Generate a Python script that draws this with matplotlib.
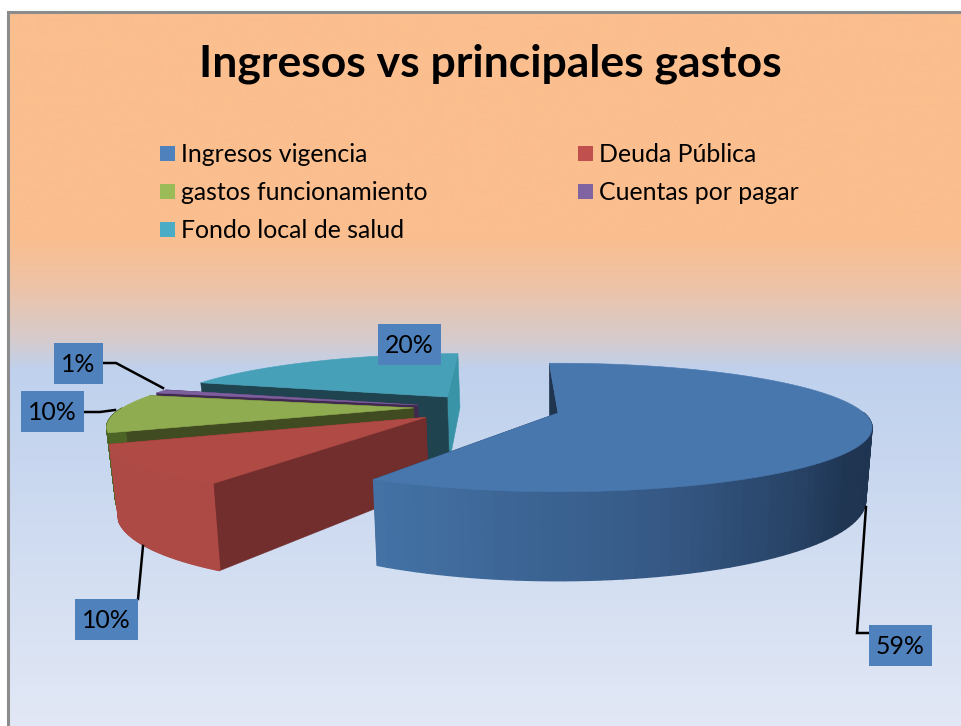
import matplotlib
matplotlib.use("Agg")
import matplotlib.pyplot as plt
from matplotlib.colors import to_rgb
import numpy as np

plt.rcParams['font.family'] = ['Lato', 'DejaVu Sans']

# datos
titulo = "Ingresos vs principales gastos"
categorias = ["Ingresos vigencia", "Deuda Pública", "gastos funcionamiento",
              "Cuentas por pagar", "Fondo local de salud"]
valores = [58.6, 10.4, 10.2, 1.0, 19.8]

colores_leyenda = ["#4F81BD", "#C0504D", "#9BBB59", "#8064A2", "#4BACC6"]
colores_tapa = ["#4877AE", "#AF4A45", "#90AC50", "#7D5F9E", "#46A0B8"]
# cara del primer corte (t0) y del segundo (t1)
colores_corte0 = ["#1F3550", "#722E2D", "#414B22", "#40294F", "#1F4450"]
colores_corte1 = ["#1F3550", "#722E2D", "#414B22", "#40294F", "#3A94A8"]
# borde exterior, de t0 a t1
colores_borde = [["#1E3350", "#1E3350", "#1E3350", "#1F3552", "#365A87", "#4472A6"],
                 ["#AE4A45", "#AE4A45"],
                 ["#4C6426", "#4C6426"],
                 ["#40294F", "#40294F"],
                 ["#3A94A8", "#3A94A8"]]

# desplazamiento de cada porcion en el plano del pastel
sep_x = [0.0, -0.425, -0.481, -0.472, -0.385]
sep_y = [0.0, -0.07, 0.085, 0.135, 0.279]
radio = [1.0, 0.97, 0.97, 0.97, 0.97]

# camara
CX, CY = 558.0, 413.0
RX, RY = 306.0, 61.0
P = 0.225
ALTO = 69.0
ANGULO0 = 92.0

fig = plt.figure(figsize=(9.61, 7.26), dpi=100, facecolor="white")
ax = fig.add_axes([0, 0, 1, 1])
ax.set_xlim(0, 961)
ax.set_ylim(726, 0)
ax.axis("off")

# fondo degradado
ys = [12, 235, 285, 340, 370, 726]
cs = ["#FBBE8E", "#FBBE8E", "#EEC3A6", "#D5CBCD", "#BFD1ED", "#E2E8F5"]
yy = np.arange(12, 727)
rgb = np.array([to_rgb(c) for c in cs])
grad = np.stack([np.interp(yy, ys, rgb[:, i]) for i in range(3)], axis=1)[:, None, :]
ax.imshow(grad, extent=(8, 961, 726, 12), aspect="auto", zorder=0)
ax.plot([8, 8, 961], [726, 12, 12], color="#8C8C8C", lw=2.2, zorder=1, solid_joinstyle="miter")
ax.set_xlim(0, 961)
ax.set_ylim(726, 0)


def proyecta(X, Y, abajo=False):
    X = np.asarray(X, dtype=float)
    Y = np.asarray(Y, dtype=float)
    s = 1 / (1 + P * Y)
    x = CX + RX * X * s
    y = CY - RY * Y * s
    if abajo:
        x = CX + (x - CX) * 0.98
        y = y + ALTO * s
    return x, y


def cara(xa, ya, color, z, lw=0.4):
    ax.fill(xa, ya, color=color, lw=lw, zorder=z)


def cara_corte(ox, oy, r, t, color, z):
    px = ox + r * np.cos(np.radians(t))
    py = oy + r * np.sin(np.radians(t))
    x1, y1 = proyecta([ox, px], [oy, py])
    x2, y2 = proyecta([px, ox], [py, oy], abajo=True)
    cara(np.r_[x1, x2], np.r_[y1, y2], color, z)


def color_borde(lista, f):
    pos = np.linspace(0, 1, len(lista))
    c = np.array([to_rgb(k) for k in lista])
    return [np.interp(f, pos, c[:, i]) for i in range(3)]


# se dibuja de atras hacia adelante
orden = [4, 3, 2, 1, 0]
inicio = ANGULO0 - 360 * np.cumsum([0] + valores[:-1]) / 100
fin = ANGULO0 - 360 * np.cumsum(valores) / 100

for k, i in enumerate(orden):
    z = 2 + k * 5
    t0, t1 = inicio[i], fin[i]
    ox, oy, r = sep_x[i], sep_y[i], radio[i]

    cara_corte(ox, oy, r, t1, colores_corte1[i], z)
    cara_corte(ox, oy, r, t0, colores_corte0[i], z + 1)

    # borde exterior por tiras
    tt = np.linspace(t0, t1, 121)
    for a, b in zip(tt[:-1], tt[1:]):
        if np.sin(np.radians((a + b) / 2)) >= 0:
            continue
        xs = ox + r * np.cos(np.radians([a, b]))
        zs = oy + r * np.sin(np.radians([a, b]))
        x1, y1 = proyecta(xs, zs)
        x2, y2 = proyecta(xs[::-1], zs[::-1], abajo=True)
        cara(np.r_[x1, x2], np.r_[y1, y2],
             color_borde(colores_borde[i], ((a + b) / 2 - t0) / (t1 - t0)), z + 2, lw=1.0)

    # tapa
    xs = np.r_[ox, ox + r * np.cos(np.radians(tt))]
    zs = np.r_[oy, oy + r * np.sin(np.radians(tt))]
    x1, y1 = proyecta(xs, zs)
    cara(x1, y1, colores_tapa[i], z + 3)

# titulo
ax.text(490, 63.5, titulo, fontsize=32, fontweight="bold", ha="center", va="center",
        color="black", zorder=40)

# leyenda
leg_x = [160, 160, 160, 578, 578]
leg_orden = [0, 2, 4, 1, 3]
leg_y = [153, 191, 229, 153, 191]
for i, lx, ly in zip(leg_orden, leg_x, leg_y):
    ax.fill([lx, lx + 15, lx + 15, lx], [ly - 7.5, ly - 7.5, ly + 7.5, ly + 7.5],
            color=colores_leyenda[i], lw=0, zorder=40)
    ax.text(lx + 21, ly + 1, categorias[i], fontsize=17.9, ha="left", va="center", color="black", zorder=40)

# etiquetas
caja_x = [900.5, 106.5, 52.5, 78.5, 409.5]
caja_y = [645.5, 619.5, 411.5, 363.5, 344.5]
caja_w = [63, 63, 63, 49, 63]
for i in range(5):
    w = caja_w[i]
    ax.fill([caja_x[i] - w / 2, caja_x[i] + w / 2, caja_x[i] + w / 2, caja_x[i] - w / 2],
            [caja_y[i] - 20.5, caja_y[i] - 20.5, caja_y[i] + 20.5, caja_y[i] + 20.5],
            color=colores_leyenda[0], lw=0, zorder=41)
    ax.text(caja_x[i], caja_y[i] + 1, f"{round(valores[i])}%", fontsize=17.9, ha="center", va="center",
            color="black", zorder=42)

# lineas guia
guias = [([869, 857, 866], [633, 633, 507]),
         ([138, 143], [599, 546]),
         ([85, 100, 115], [412, 412, 410]),
         ([104, 116, 163], [363, 363, 388])]
for gx, gy in guias:
    ax.plot(gx, gy, color="black", lw=1.8, zorder=39, solid_joinstyle="miter")

fig.savefig("out.png", dpi=100, facecolor="white")
